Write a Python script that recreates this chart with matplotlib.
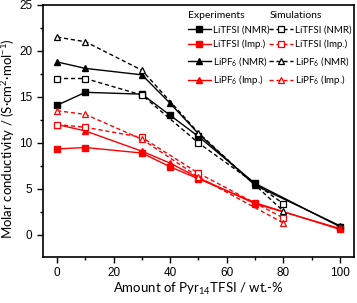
import matplotlib
matplotlib.use("Agg")
import matplotlib.pyplot as plt
import matplotlib.ticker as mtick

plt.rcParams["font.family"] = ["Liberation Sans", "DejaVu Sans"]
plt.rcParams["mathtext.fontset"] = "custom"
plt.rcParams["mathtext.rm"] = "Lato"
plt.rcParams["mathtext.it"] = "Lato"

# experiments
xExp = [0, 10, 30, 40, 50, 70, 100]
litfsiNmr = [14.1, 15.5, 15.3, 13.0, 10.7, 5.6, 0.9]
litfsiImp = [9.35, 9.5, 8.9, 7.4, 6.1, 3.5, 0.6]
lipf6Nmr = [18.8, 18.1, 17.4, 14.3, 11.0, 5.4, 1.0]
lipf6Imp = [12.0, 11.3, 9.1, 7.8, 6.2, 3.4, 0.7]

# simulations
xSim = [0, 10, 30, 50, 80]
litfsiNmrSim = [17.0, 17.0, 15.2, 10.0, 3.4]
litfsiImpSim = [12.0, 11.7, 10.6, 6.7, 1.85]
lipf6NmrSim = [21.5, 21.0, 17.9, 11.1, 2.6]
lipf6ImpSim = [13.5, 13.1, 10.4, 6.3, 1.3]

labels = ["LiTFSI (NMR)", "LiTFSI (Imp.)", "LiPF$_6$ (NMR)", "LiPF$_6$ (Imp.)"]

red = "#ff0000"
lw = 1.0
ms = 4.2
labelFont = ["Lato", "DejaVu Sans"]

fig = plt.figure(figsize=(3.57, 3.03), dpi=100)
ax = fig.add_axes([0.1204, 0.1518, 0.871, 0.832])

expSpecs = [
  (litfsiNmr, "k", "s"),
  (litfsiImp, red, "s"),
  (lipf6Nmr, "k", "^"),
  (lipf6Imp, red, "^"),
]
simSpecs = [
  (litfsiNmrSim, "k", "s"),
  (litfsiImpSim, red, "s"),
  (lipf6NmrSim, "k", "^"),
  (lipf6ImpSim, red, "^"),
]

expHandles = []
for (y, c, m), lab in zip(expSpecs, labels):
  h, = ax.plot(xExp, y, color=c, marker=m, markersize=ms, linewidth=lw, label=lab)
  expHandles.append(h)

simHandles = []
for (y, c, m), lab in zip(simSpecs, labels):
  h, = ax.plot(xSim, y, color=c, marker=m, markersize=ms, linewidth=lw, linestyle=(0, (3, 2)),
               markerfacecolor="white", markeredgecolor=c, markeredgewidth=0.9, label=lab)
  simHandles.append(h)

ax.set_xlim(-5, 105)
ax.set_ylim(-2.4, 25)
ax.xaxis.set_major_locator(mtick.MultipleLocator(20))
ax.xaxis.set_minor_locator(mtick.MultipleLocator(10))
ax.yaxis.set_major_locator(mtick.MultipleLocator(5))
ax.yaxis.set_minor_locator(mtick.MultipleLocator(2.5))
ax.tick_params(which="both", direction="out", labelsize=8.5, width=1.0)
ax.tick_params(which="major", length=4)
ax.tick_params(which="minor", length=2.5)
for s in ax.spines.values():
  s.set_linewidth(1.2)

ax.set_xlabel("Amount of Pyr$_{14}$TFSI / wt.-%", fontsize=9.5, family=labelFont)
ax.set_ylabel("Molar conductivity / (S·cm$^2$·mol$^{-1}$)", fontsize=9.5, family=labelFont)
ax.yaxis.set_label_coords(-0.085, 0.47)
ax.xaxis.set_label_coords(0.5, -0.095)

legKw = dict(frameon=False, prop={"family": labelFont, "size": 7}, title_fontproperties={"family": labelFont, "size": 7.5},
             alignment="left", handlelength=2.4, handletextpad=0.25, labelspacing=0.55,
             borderaxespad=0, borderpad=0, loc="upper left")
leg1 = ax.legend(expHandles, labels, title="Experiments", bbox_to_anchor=(0.465, 0.975), **legKw)
ax.add_artist(leg1)
ax.legend(simHandles, labels, title="Simulations", bbox_to_anchor=(0.728, 0.975), **legKw)

fig.savefig("out.png", dpi=100)
